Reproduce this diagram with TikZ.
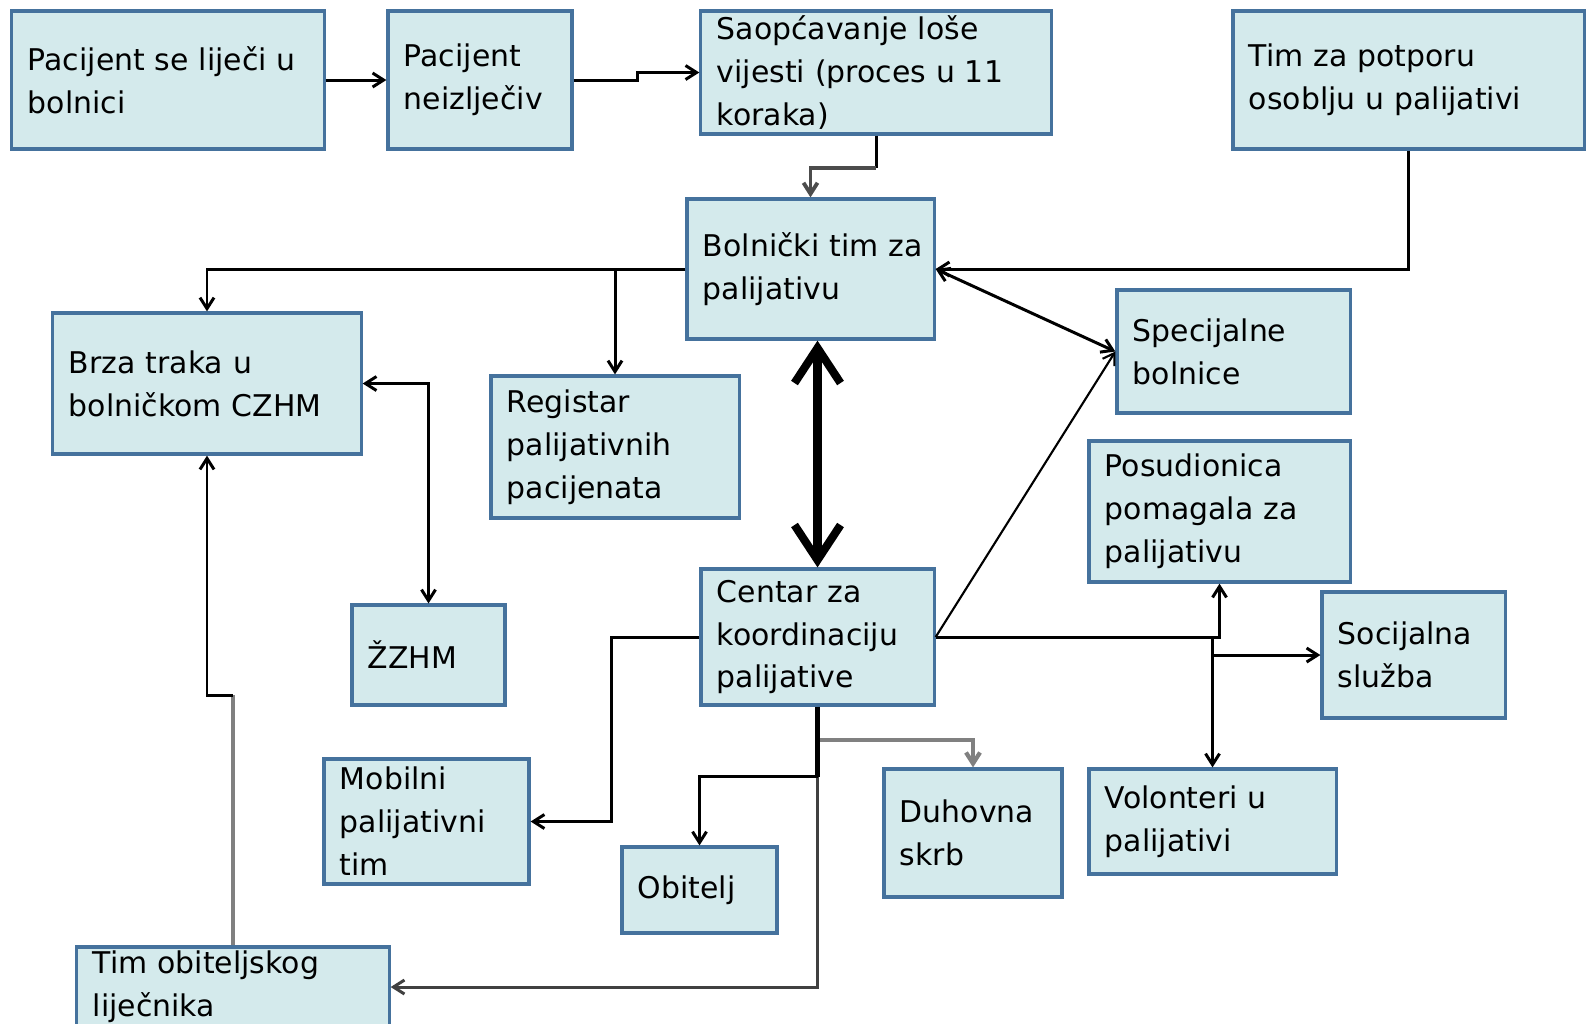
\documentclass[tikz,border=0pt]{standalone}
\usepackage{fontspec}
\setmainfont{DejaVu Sans}
\usetikzlibrary{arrows.meta,positioning}
\definecolor{boxfill}{RGB}{212,234,236}
\definecolor{boxline}{RGB}{69,114,157}

\begin{document}
\begin{tikzpicture}[x=0.01cm,y=-0.01cm,line width=0.85pt,
    >={Straight Barb[length=1.1mm,width=1.4mm]},
    box/.style 2 args={draw=boxline,fill=boxfill,line width=0.9pt,align=left,
      text width=#1,minimum height=#2,inner xsep=0.16cm,inner ysep=0pt,
      font=\fontsize{8.5}{12.2}\selectfont}]

    \useasboundingbox (0,0) rectangle (1589,1023);

    % top row
    \node[box={2.80cm}{1.38cm}] (hosp) at (168,80) {Pacijent se liječi u\\ bolnici};
    \node[box={1.52cm}{1.38cm}] (incur) at (480,80) {Pacijent\\ neizlječiv};
    \node[box={3.18cm}{1.23cm}] (news) at (876,72.5) {Saopćavanje loše\\ vijesti (proces u 11\\ koraka)};
    \node[box={3.19cm}{1.38cm}] (staff) at (1408.5,80) {Tim za potporu\\ osoblju u palijativi};

    % hospital level
    \node[box={2.15cm}{1.40cm}] (hteam) at (810.5,269) {Bolnički~tim~za\\ palijativu};
    \node[box={2.76cm}{1.41cm}] (fast) at (207,383.5) {Brza traka u\\ bolničkom CZHM};
    \node[box={2.16cm}{1.42cm}] (reg) at (615,447) {Registar\\ palijativnih\\ pacijenata};
    \node[box={2.01cm}{1.23cm}] (spec) at (1233.5,351.5) {Specijalne\\ bolnice};
    \node[box={2.29cm}{1.41cm}] (lend) at (1219.5,511.5) {Posudionica\\ pomagala za\\ palijativu};

    % coordination level
    \node[box={2.01cm}{1.36cm}] (centre) at (817.5,637) {Centar za\\ koordinaciju\\ palijative};
    \node[box={1.21cm}{1.00cm}] (zzhm) at (428.5,655) {ŽZHM};
    \node[box={1.51cm}{1.26cm}] (social) at (1413.5,655) {Socijalna\\ služba};
    \node[box={1.73cm}{1.25cm}] (mobile) at (426.5,821.5) {Mobilni\\ palijativni\\ tim};
    \node[box={1.23cm}{0.86cm}] (family) at (699.5,890) {Obitelj};
    \node[box={1.46cm}{1.28cm}] (spirit) at (973,833) {Duhovna\\ skrb};
    \node[box={2.15cm}{1.05cm}] (volunt) at (1212.5,821.5) {Volonteri u\\ palijativi};
    \node[box={2.80cm}{0.80cm}] (gp) at (233,987) {Tim obiteljskog\\ liječnika};

    % connectors
    \path[->] (hosp) edge (incur);
    \draw[->] (incur.east) -- ++(64,0) |- (news);
    \draw (news.south) -- ++(0,32) coordinate (newsbend);
    \draw[->,black!70,line width=1.1pt] (newsbend) -| (hteam.north);
    \draw[->] (hteam.west) -| (fast.north);
    \draw[->] (hteam.west) -| (reg.north);
    \draw[->] (staff.south) |- (hteam.east);
    \path[<->] (hteam.east) edge (spec.west);
    \draw[->,line width=0.6pt] (centre.east) -- (spec.west);
    \draw[<->,line width=2.3pt,>={Straight Barb[length=3.5mm,width=4.6mm]}]
        (centre.north) -- (centre.north |- hteam.south);
    \draw[<->] (fast.east) -| (zzhm.north);
    \draw[gray,line width=1.1pt] (gp.north) -- ++(0,-250) coordinate (gpbend);
    \draw[->] (gpbend) -| (fast.south);
    \draw[->] (centre.west) -- ++(-88,0) |- (mobile.east);
    \draw[->,black!75] (centre.south) |- (gp.east);
    \draw[->,gray,line width=1.2pt] (centre.south) ++(0,33) -| (spirit.north);
    \draw[line width=1.3pt] (centre.south) -- ++(0,70) coordinate (trunk);
    \draw[->] (trunk) -| (family.north);
    \draw[->] (centre.east) -| (lend.south);
    \draw[->] (centre.east) -| (volunt.north);
    \draw[->] (volunt.north |- social.west) -- (social.west);

\end{tikzpicture}
\end{document}
